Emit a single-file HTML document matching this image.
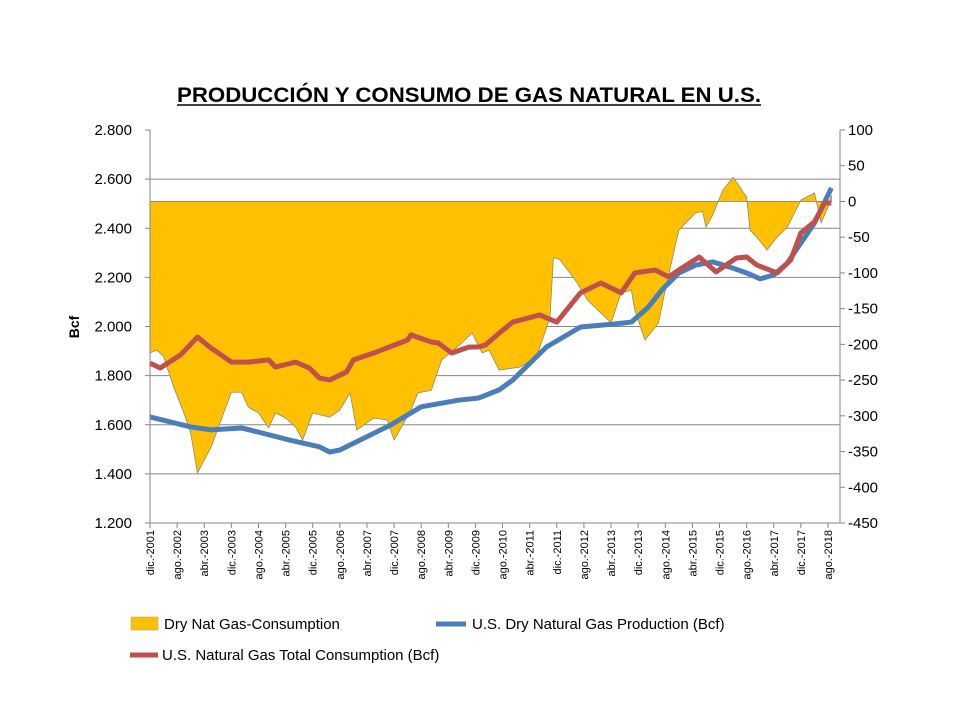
<!DOCTYPE html>
<html><head><meta charset="utf-8"><style>
body{margin:0;background:#fff;width:960px;height:720px;overflow:hidden;font-family:"Liberation Sans",sans-serif}
svg text{font-family:"Liberation Sans",sans-serif}
</style></head><body>
<svg id="chart" width="960" height="720" xmlns="http://www.w3.org/2000/svg">
<text x="177" y="102" textLength="584" lengthAdjust="spacingAndGlyphs" font-size="21" font-weight="bold">PRODUCCIÓN Y CONSUMO DE GAS NATURAL EN U.S.</text>
<line x1="177" y1="105" x2="761" y2="105" stroke="#000" stroke-width="1.5"/>
<g id="grid"></g><g id="area"></g><g id="lines"></g><g id="axes"></g>
<text transform="translate(79,327) rotate(-90)" text-anchor="middle" font-size="14" font-weight="bold">Bcf</text>
<rect x="131" y="617" width="27" height="13" fill="#ffc000" stroke="#999" stroke-width="0.5"/>
<text x="164" y="629" font-size="15">Dry Nat Gas-Consumption</text>
<line x1="436" y1="624" x2="466" y2="624" stroke="#4a7ebb" stroke-width="5"/>
<text x="472" y="629" font-size="15">U.S. Dry Natural Gas Production (Bcf)</text>
<line x1="130" y1="655" x2="158" y2="655" stroke="#c0504d" stroke-width="5"/>
<text x="162" y="660" font-size="15">U.S. Natural Gas Total Consumption (Bcf)</text>
</svg>
<script>
const prodMonths=[0,12,18,27,32,41,50,53,56,62,71,80,91,97,103,107,117,127,137,142,147,151,156,161,166,171,176,180,184,188,192,196,201];
const prodValues=[1632,1591,1579,1587,1570,1538,1510,1489,1497,1538,1599,1673,1700,1709,1742,1782,1917,1998,2010,2018,2079,2149,2218,2250,2263,2242,2218,2194,2210,2258,2340,2421,2564];
const consMonths=[0,3,9,14,18,24,29,35,37,43,47,50,53,58,60,66,76,77,83,85,89,94,97,99,103,107,115,117,120,127,133,139,143,149,153,156,162,167,173,176,179,185,189,192,196,199,201];
const consValues=[1851,1831,1884,1957,1912,1855,1855,1864,1835,1855,1831,1790,1782,1815,1864,1892,1945,1966,1937,1933,1892,1916,1917,1925,1973,2018,2047,2035,2018,2137,2177,2137,2218,2230,2202,2230,2283,2222,2279,2283,2250,2218,2271,2381,2426,2503,2503];
const gapMonths=[0,2,4,7,10,12,14,18,24,27,29,32,35,37,40,43,45,48,53,56,59,61,66,70,72,77,79,83,86,92,95,98,100,103,109,114,118,119,121,126,129,136,139,142,143,146,150,152,156,161,163,164,166,169,172,176,177,179,182,185,188,192,196,198,200,201];
const gapValues=[-212,-208,-217,-260,-296,-324,-380,-344,-267,-267,-288,-296,-317,-296,-303,-316,-334,-296,-302,-292,-268,-320,-303,-306,-334,-292,-268,-264,-222,-198,-184,-212,-208,-236,-232,-218,-162,-78,-82,-114,-138,-170,-128,-124,-152,-194,-170,-124,-40,-16,-14,-36,-19,16,34,6,-40,-50,-68,-50,-36,2,12,-30,-8,9];
const leftTicks=[1200,1400,1600,1800,2000,2200,2400,2600,2800];
const rightTicks=[-450,-400,-350,-300,-250,-200,-150,-100,-50,0,50,100];
const xLabels=["dic.-2001","ago.-2002","abr.-2003","dic.-2003","ago.-2004","abr.-2005","dic.-2005","ago.-2006","abr.-2007","dic.-2007","ago.-2008","abr.-2009","dic.-2009","ago.-2010","abr.-2011","dic.-2011","ago.-2012","abr.-2013","dic.-2013","ago.-2014","abr.-2015","dic.-2015","ago.-2016","abr.-2017","dic.-2017","ago.-2018"];
const NS="http://www.w3.org/2000/svg";
const X0=150,X1=840,Y0=130,Y1=523;
const x=m=>X0+m*3.39;
const yL=v=>Y0+(2800-v)/1600*(Y1-Y0);
const yR=v=>Y0+(100-v)/550*(Y1-Y0);
function mk(tag,attrs,parent){const e=document.createElementNS(NS,tag);for(const k in attrs)e.setAttribute(k,attrs[k]);document.getElementById(parent).appendChild(e);return e;}
leftTicks.forEach((t,i)=>{
 if(t!==2800&&t!==1200){const g=mk('line',{x1:X0,x2:X1,y1:yL(t),y2:yL(t),stroke:'#868686','stroke-width':1},'grid');
 
 }
 mk('line',{x1:X0-5,x2:X0,y1:yL(t),y2:yL(t),stroke:'#868686'},'axes');
 const tx=mk('text',{x:X0-18,y:yL(t)+5,'text-anchor':'end','font-size':15},'axes');
 tx.textContent=t.toLocaleString('de-DE');
 
 
});
mk('line',{x1:X0,x2:X1,y1:Y1,y2:Y1,stroke:'#868686'},'grid');
rightTicks.forEach(t=>{
 mk('line',{x1:X1,x2:X1+5,y1:yR(t),y2:yR(t),stroke:'#868686'},'axes');
 const tx=mk('text',{x:X1+8,y:yR(t)+5,'font-size':15},'axes');
 tx.textContent=t;
 
 
});
mk('line',{x1:X0,x2:X0,y1:Y0,y2:Y1,stroke:'#868686'},'axes');
mk('line',{x1:X1,x2:X1,y1:Y0,y2:Y1,stroke:'#868686'},'axes');
xLabels.forEach((l,i)=>{
 const px=x(i*8);
 mk('line',{x1:px,x2:px,y1:Y1,y2:Y1+5,stroke:'#868686'},'axes');
 const tx=mk('text',{transform:`translate(${px+4},${Y1+7}) rotate(-90)`,'text-anchor':'end','font-size':11},'axes');
 tx.textContent=l;
 
 
});
let d=`M${x(gapMonths[0])},${yR(0)}`;
gapMonths.forEach((m,i)=>{d+=` L${x(m)},${yR(gapValues[i])}`;});
d+=` L${x(gapMonths[gapMonths.length-1])},${yR(0)} Z`;
const ar=mk('path',{d:d,fill:'#ffc000',stroke:'#8c8c6c','stroke-width':0.8},'area');


const pp=mk('polyline',{points:prodMonths.map((m,i)=>x(m)+','+yL(prodValues[i])).join(' '),fill:'none',stroke:'#4a7ebb','stroke-width':5,'stroke-linejoin':'round'},'lines');


const cp=mk('polyline',{points:consMonths.map((m,i)=>x(m)+','+yL(consValues[i])).join(' '),fill:'none',stroke:'#c0504d','stroke-width':5,'stroke-linejoin':'round'},'lines');


</script>
</body></html>
